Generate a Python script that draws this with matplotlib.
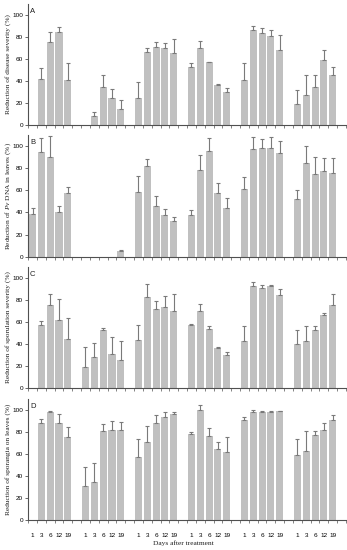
"""
Reduction of downy mildew parameters after treatment, four stacked bar panels.
Each panel has six treatment groups sampled at 1, 3, 6, 12 and 19 days.
"""

import numpy as np
import matplotlib
matplotlib.use("Agg")
import matplotlib.pyplot as plt

# italic "Pv" in the serif face used for axis titles
plt.rcParams["mathtext.fontset"] = "custom"
plt.rcParams["mathtext.it"] = "Liberation Serif:italic"
plt.rcParams["mathtext.rm"] = "Liberation Serif"

# Days sampled inside every treatment group
days = ["1", "3", "6", "12", "19"]
n_groups = 6

# Panel A - reduction of disease severity (%), mean and upper SD per group
a_mean = [[0, 41.7, 75.0, 84.4, 40.5],
          [0, 8.4, 34.2, 24.3, 14.7],
          [24.0, 66.4, 70.9, 70.0, 65.5],
          [52.6, 70.0, 56.8, 36.6, 30.0],
          [40.8, 86.2, 83.5, 80.8, 68.5],
          [19.2, 27.3, 34.5, 59.2, 45.6]]
a_sd = [[0, 9.7, 9.4, 4.5, 15.4],
        [0, 3.6, 11.4, 8.4, 8.1],
        [15.0, 3.6, 4.5, 4.5, 12.9],
        [3.9, 6.3, 0.3, 0.9, 3.9],
        [15.1, 3.6, 4.5, 5.4, 13.2],
        [12.6, 17.7, 11.1, 9.0, 6.7]]

# Panel B - reduction of Pv DNA in leaves (%)
b_mean = [[39.0, 94.9, 90.4, 40.2, 57.7],
          [0, 0, 0, 0, 5.4],
          [58.0, 82.0, 46.0, 38.1, 32.4],
          [37.8, 78.0, 95.8, 57.7, 44.4],
          [60.7, 97.6, 98.2, 97.9, 93.4],
          [51.7, 85.0, 74.2, 76.9, 75.4]]
b_sd = [[5.4, 12.1, 18.6, 5.4, 5.3],
        [0, 0, 0, 0, 0.9],
        [14.7, 6.3, 9.0, 5.1, 3.6],
        [4.8, 13.6, 11.7, 9.0, 8.8],
        [10.8, 10.8, 7.8, 10.5, 10.6],
        [8.3, 15.0, 15.8, 12.3, 14.1]]

# Panel C - reduction of sporulation severity (%)
c_mean = [[0, 57.7, 75.8, 62.0, 45.0],
          [19.3, 28.4, 52.3, 30.5, 25.7],
          [43.8, 82.5, 71.9, 74.0, 69.8],
          [57.7, 70.0, 53.8, 36.6, 29.9],
          [42.9, 93.0, 91.2, 92.4, 84.6],
          [40.2, 42.3, 52.6, 66.2, 75.2]]
c_sd = [[0, 3.6, 10.0, 19.3, 18.4],
        [17.9, 12.1, 2.4, 15.7, 16.9],
        [13.9, 12.4, 7.0, 10.0, 16.0],
        [0.6, 6.4, 2.4, 0.9, 3.3],
        [13.3, 3.7, 2.2, 1.0, 5.7],
        [13.0, 14.5, 3.9, 2.4, 10.6]]

# Panel D - reduction of sporangia on leaves (%)
d_mean = [[0, 88.3, 98.2, 88.3, 75.4],
          [31.0, 35.0, 80.8, 82.0, 81.7],
          [57.7, 70.6, 88.6, 93.7, 96.4],
          [77.8, 99.7, 76.0, 64.9, 62.2],
          [91.0, 98.2, 97.9, 98.5, 98.8],
          [58.9, 63.0, 77.2, 81.7, 91.0]]
d_sd = [[0, 3.3, 1.2, 7.7, 9.0],
        [17.3, 17.0, 6.6, 7.8, 7.5],
        [16.2, 14.7, 7.2, 4.2, 1.5],
        [2.1, 5.1, 7.5, 6.3, 12.9],
        [3.0, 2.1, 0.9, 0.9, 0.6],
        [15.0, 17.8, 3.6, 6.6, 4.8]]

panel_letters = ["A", "B", "C", "D"]
y_labels = ["Reduction of disease severity (%)",
            "Reduction of $\\it{Pv}$ DNA in leaves (%)",
            "Reduction of sporulation severity (%)",
            "Reduction of sporangia on leaves (%)"]
y_ticks = [0, 20, 40, 60, 80, 100]
x_title = "Days after treatment"

BAR_COLOR = "#c0c0c0"
ERR_COLOR = "#7a7a7a"
AXIS_COLOR = "#505050"
SERIF = "Liberation Serif"
SANS = "Liberation Sans"

# axes boxes in figure fractions (left, bottom, width, height), top to bottom
boxes = [[0.081, 0.773, 0.916, 0.220],
         [0.081, 0.533, 0.916, 0.222],
         [0.081, 0.2945, 0.916, 0.220],
         [0.081, 0.0545, 0.916, 0.220]]


def draw_panel(ax, means, sds, letter, show_labels):
    """Draw one panel of six groups x five bars with upper error bars."""
    slots = len(days) + 1
    for g in range(n_groups):
        x = np.arange(len(days)) + g * slots
        m = np.array(means[g], dtype=float)
        s = np.array(sds[g], dtype=float)
        keep = m > 0
        ax.bar(x[keep], m[keep], width=0.8, color=BAR_COLOR, linewidth=0, zorder=2)
        ax.errorbar(x[keep], m[keep], yerr=[np.zeros(keep.sum()), s[keep]],
                    fmt="none", ecolor=ERR_COLOR, elinewidth=0.8,
                    capsize=1.2, capthick=0.8, zorder=3)

    ax.set_xlim(-0.5, n_groups * slots - 0.5)
    ax.set_ylim(0, 110)

    # spines
    for side in ["top", "right"]:
        ax.spines[side].set_visible(False)
    for side in ["left", "bottom"]:
        ax.spines[side].set_color(AXIS_COLOR)
        ax.spines[side].set_linewidth(0.8)

    ax.set_yticks(y_ticks)
    ax.set_yticklabels([str(v) for v in y_ticks], fontsize=4.6, family=SANS)
    ax.tick_params(axis="y", direction="out", length=2, width=0.6,
                   color=AXIS_COLOR, pad=1.5)

    # small ticks on slot edges, labels at the bar centres
    edges = np.arange(n_groups * slots + 1) - 0.5
    ax.set_xticks(edges, minor=True)
    ax.tick_params(axis="x", which="minor", direction="out", length=1.8,
                   width=0.5, color=AXIS_COLOR)
    centres = [g * slots + i for g in range(n_groups) for i in range(len(days))]
    ax.set_xticks(centres)
    if show_labels:
        ax.set_xticklabels(days * n_groups, fontsize=4.6, family=SANS)
    else:
        ax.set_xticklabels([])
    ax.tick_params(axis="x", which="major", length=0, pad=9)

    ax.text(0.006, 0.935, letter, transform=ax.transAxes, fontsize=5.5,
            family=SANS, ha="left", va="center", color="#202020")


def main():
    fig = plt.figure(figsize=(3.47, 5.5), dpi=100)
    panels = [(a_mean, a_sd), (b_mean, b_sd), (c_mean, c_sd), (d_mean, d_sd)]

    for idx, (means, sds) in enumerate(panels):
        ax = fig.add_axes(boxes[idx])
        draw_panel(ax, means, sds, panel_letters[idx], show_labels=(idx == 3))
        left, bottom, width, height = boxes[idx]
        fig.text(0.024, bottom + height * 0.5, y_labels[idx], rotation=90,
                 fontsize=5.3, family=SERIF, ha="center", va="center",
                 color="#202020")

    fig.text(0.528, 0.0127, x_title, fontsize=5.3, family=SERIF,
             ha="center", va="center", color="#202020")

    fig.savefig("out.png", dpi=100)
    print("[OK] saved out.png")


if __name__ == "__main__":
    main()
